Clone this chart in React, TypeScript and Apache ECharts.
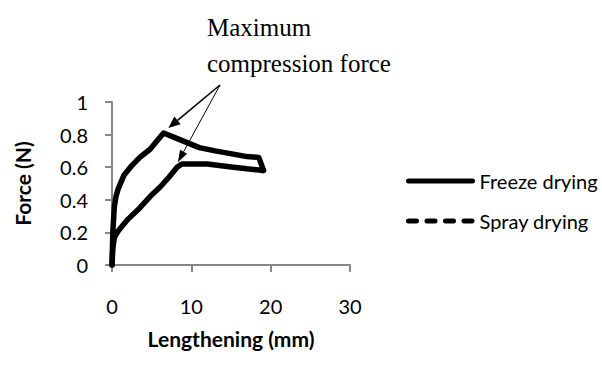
import React, { useEffect, useRef } from "react";
import * as echarts from "echarts";

const xTicks = [0, 10, 20, 30];
const yTicks = [0, 0.2, 0.4, 0.6, 0.8, 1];

const freezeX = [0, 0.1, 0.3, 0.5, 0.8, 1.5, 2.5, 3.5, 4.8, 6.5, 8, 9, 11, 13, 15.3, 17, 18.5, 19.1];
const freezeY = [0, 0.2, 0.36, 0.42, 0.47, 0.55, 0.61, 0.66, 0.71, 0.81, 0.78, 0.76, 0.72, 0.7, 0.68, 0.665, 0.66, 0.58];

const sprayX = [0, 0.1, 0.3, 0.8, 2, 3.5, 5, 6.1, 7.2, 8.2, 8.8, 10, 12, 15.3, 17, 19.1];
const sprayY = [0, 0.1, 0.17, 0.21, 0.28, 0.35, 0.43, 0.48, 0.54, 0.6, 0.62, 0.62, 0.62, 0.6, 0.59, 0.58];

const seriesNames = ["Freeze drying", "Spray drying"];
const annotationLines = ["Maximum", "compression force"];
// arrow tips in data coordinates
const arrowTips = [
  [7.1, 0.84],
  [8.3, 0.63],
];

const SANS = "Lato, 'Liberation Sans', sans-serif";
const SERIF = "'Liberation Serif', 'DejaVu Serif', serif";
const AXIS_COLOR = "#878787";

function arrowHead(x1: number, y1: number, x2: number, y2: number, len: number, half: number) {
  const dx = x2 - x1;
  const dy = y2 - y1;
  const d = Math.sqrt(dx * dx + dy * dy);
  const ux = dx / d;
  const uy = dy / d;
  const bx = x2 - ux * len;
  const by = y2 - uy * len;
  return [
    [x2, y2],
    [bx - uy * half, by + ux * half],
    [bx + uy * half, by - ux * half],
  ];
}

export default function App() {
  const ref = useRef<HTMLDivElement>(null);
  useEffect(() => {
    if (!ref.current) return;
    const chart = echarts.init(ref.current, undefined, { renderer: "svg" });
    const lineSeries = (name: string, xs: number[], ys: number[]) => ({
      name,
      type: "line",
      data: xs.map((x, i) => [x, ys[i]]),
      showSymbol: false,
      symbol: "none",
      smooth: false,
      lineStyle: { color: "#000", width: 5.5, cap: "round", join: "round" },
      itemStyle: { color: "#000" },
    });
    const hiddenSymbol = { color: "transparent", borderWidth: 0, opacity: 0 };
    chart.setOption({
      animation: false,
      grid: { left: 112, top: 102, width: 238, height: 163 },
      xAxis: {
        type: "value",
        min: xTicks[0],
        max: xTicks[xTicks.length - 1],
        interval: 10,
        name: "Lengthening (mm)",
        nameLocation: "middle",
        nameGap: 63,
        nameTextStyle: { fontFamily: SANS, fontSize: 21, fontWeight: "bold", color: "#000" },
        axisLine: { show: true, lineStyle: { color: AXIS_COLOR, width: 2 } },
        axisTick: { show: true, inside: false, length: 7, lineStyle: { color: AXIS_COLOR, width: 2 } },
        axisLabel: { fontFamily: SANS, fontSize: 20, color: "#000", margin: 31 },
        splitLine: { show: false },
      },
      yAxis: {
        type: "value",
        min: yTicks[0],
        max: yTicks[yTicks.length - 1],
        interval: 0.2,
        name: "Force (N)",
        nameLocation: "middle",
        nameGap: 79,
        nameTextStyle: { fontFamily: SANS, fontSize: 21, fontWeight: "bold", color: "#000" },
        axisLine: { show: true, lineStyle: { color: AXIS_COLOR, width: 2 } },
        axisTick: { show: true, inside: false, length: 7, lineStyle: { color: AXIS_COLOR, width: 2 } },
        axisLabel: { fontFamily: SANS, fontSize: 20, color: "#000", margin: 24 },
        splitLine: { show: false },
      },
      legend: {
        orient: "vertical",
        left: 406,
        top: 170,
        padding: 0,
        itemWidth: 64,
        itemHeight: 14,
        itemGap: 18,
        textStyle: { fontFamily: SANS, fontSize: 20, lineHeight: 22, color: "#000", padding: [0, 0, 0, 2] },
        data: [
          { name: seriesNames[0], itemStyle: hiddenSymbol, lineStyle: { width: 5, type: "solid", cap: "round" } },
          { name: seriesNames[1], itemStyle: hiddenSymbol, lineStyle: { width: 5, type: [8, 10.5], cap: "round" } },
        ],
      },
      series: [
        lineSeries(seriesNames[0], freezeX, freezeY),
        lineSeries(seriesNames[1], sprayX, sprayY),
      ],
    });

    const start = [220, 85];
    const tips = arrowTips.map((p) => chart.convertToPixel({ gridIndex: 0 }, p) as number[]);
    const widths = [1.6, 1];
    const elements: any[] = [];
    tips.forEach((t, i) => {
      const head = arrowHead(start[0], start[1], t[0], t[1], 12, i === 0 ? 5 : 4);
      const lineEndX = (head[1][0] + head[2][0]) / 2;
      const lineEndY = (head[1][1] + head[2][1]) / 2;
      elements.push({
        type: "line",
        shape: { x1: start[0], y1: start[1], x2: lineEndX, y2: lineEndY },
        style: { stroke: "#000", lineWidth: widths[i] },
        silent: true,
      });
      elements.push({
        type: "polygon",
        shape: { points: head },
        style: { fill: "#000" },
        silent: true,
      });
    });
    elements.push({
      type: "text",
      left: 207,
      top: 15,
      style: { text: annotationLines[0], font: `25px ${SERIF}`, fill: "#000" },
    });
    elements.push({
      type: "text",
      left: 207,
      top: 51,
      style: { text: annotationLines[1], font: `25px ${SERIF}`, fill: "#000" },
    });
    chart.setOption({ graphic: { elements } });

    return () => chart.dispose();
  }, []);
  return (
    <div
      ref={ref}
      style={{ position: "fixed", left: 0, top: 0, width: 602, height: 368, background: "#fff" }}
    />
  );
}
